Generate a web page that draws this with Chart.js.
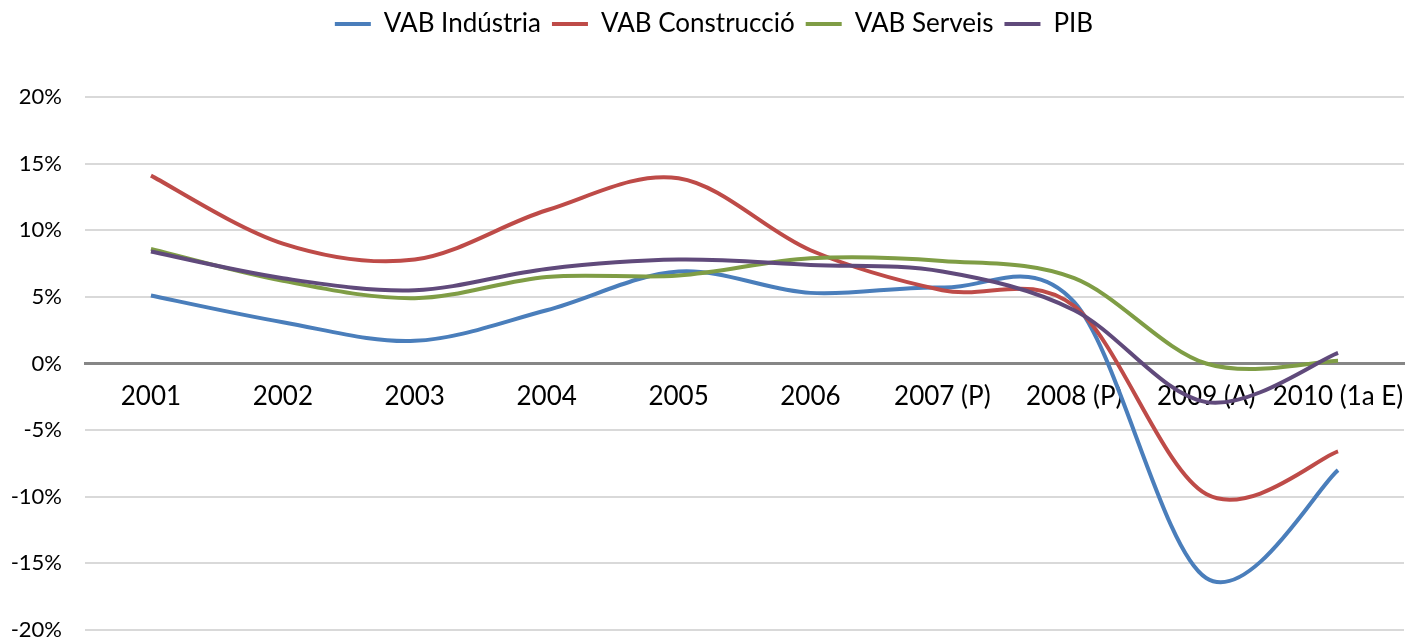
<!DOCTYPE html>
<html>
<head>
<meta charset="utf-8">
<script src="https://cdn.jsdelivr.net/npm/chart.js@4/dist/chart.umd.min.js"></script>
<style>
  html, body { margin: 0; padding: 0; background: #ffffff; }
  #wrap { width: 1411px; height: 642px; }
</style>
</head>
<body>
<div id="wrap"><canvas id="chart" width="1411" height="642"></canvas></div>
<script>
// Annual growth rates (%)
const years = ['2001', '2002', '2003', '2004', '2005', '2006', '2007 (P)', '2008 (P)', '2009 (A)', '2010 (1a E)'];
const vabIndustria    = [5.1, 3.1, 1.7, 4.0, 6.9, 5.3, 5.7, 4.6, -16.1, -8.0];
const vabConstruccio  = [14.1, 9.0, 7.8, 11.5, 13.9, 8.5, 5.5, 4.3, -9.8, -6.6];
const vabServeis      = [8.6, 6.2, 4.9, 6.5, 6.6, 7.9, 7.7, 6.4, 0.0, 0.2];
const pib             = [8.4, 6.4, 5.5, 7.1, 7.8, 7.4, 6.9, 4.0, -2.9, 0.8];
const yTicks = [-20, -15, -10, -5, 0, 5, 10, 15, 20];

const FONT = 'Lato, "Open Sans", sans-serif';

function series(label, data, color, order) {
  return {
    label, data, order,
    borderColor: color,
    backgroundColor: color,
    borderWidth: 4,
    pointRadius: 0,
    pointHoverRadius: 0,
    tension: 0.4,
    fill: false
  };
}

// extra room between legend and plot; legend centred over the plot area
const legendGap = {
  id: 'legendGap',
  beforeInit(chart) {
    const legend = chart.legend;
    const fit = legend.fit;
    legend.fit = function () {
      fit.call(this);
      this.height += 50;
    };
    const draw = legend.draw;
    legend.draw = function () {
      const ctx = this.ctx;
      ctx.save();
      ctx.translate(12, 0);
      draw.apply(this, arguments);
      ctx.restore();
    };
  }
};

// Catmull-Rom style smoothing: control points at 1/6 of the neighbour chord
const smoothCurves = {
  id: 'smoothCurves',
  beforeDatasetDraw(chart, args) {
    const line = args.meta.dataset;
    const pts = args.meta.data;
    const n = pts.length;
    for (let i = 0; i < n; i++) {
      const p = pts[i];
      const prev = pts[Math.max(i - 1, 0)];
      const next = pts[Math.min(i + 1, n - 1)];
      const dx = (next.x - prev.x) / 6;
      const dy = (next.y - prev.y) / 6;
      p.cp1x = p.x - dx; p.cp1y = p.y - dy;
      p.cp2x = p.x + dx; p.cp2y = p.y + dy;
    }
    line._pointsUpdated = true;
    line._path = undefined;
  }
};

// keep axis label overhang from shrinking the plot area
function noPadding(scale) {
  scale.paddingLeft = 0;
  scale.paddingRight = 0;
  scale.paddingTop = 0;
  scale.paddingBottom = 0;
}

new Chart(document.getElementById('chart'), {
  type: 'line',
  data: {
    labels: years,
    datasets: [
      series('VAB Indústria', vabIndustria, '#4a7ebb', 3),
      series('VAB Construcció', vabConstruccio, '#be4b48', 2),
      series('VAB Serveis', vabServeis, '#7f9d45', 1),
      series('PIB', pib, '#604a7b', 0)
    ]
  },
  plugins: [legendGap, smoothCurves],
  options: {
    responsive: false,
    animation: false,
    layout: { padding: { left: 0, right: 7, top: 0, bottom: 12 } },
    plugins: {
      tooltip: { enabled: false },
      legend: {
        position: 'top',
        align: 'center',
        labels: {
          usePointStyle: true,
          pointStyle: 'line',
          pointStyleWidth: 36,
          color: '#000000',
          padding: 11,
          font: { family: FONT, size: 26 },
          sort: (a, b) => a.datasetIndex - b.datasetIndex
        }
      }
    },
    scales: {
      x: {
        position: { y: 0 },
        offset: true,
        afterFit(scale) { noPadding(scale); },
        grid: { display: false, drawTicks: false },
        border: { display: true, color: '#868686', width: 3 },
        ticks: {
          color: '#000000',
          padding: 18,
          maxRotation: 0,
          autoSkip: false,
          font: { family: FONT, size: 26 }
        }
      },
      y: {
        min: -20,
        max: 20,
        afterBuildTicks(scale) { scale.ticks = yTicks.map(v => ({ value: v })); },
        afterFit(scale) { scale.width = 85; noPadding(scale); },
        grid: {
          drawTicks: false,
          color: ctx => (ctx.tick && ctx.tick.value === 0) ? 'rgba(0,0,0,0)' : '#d9d9d9',
          lineWidth: 2
        },
        border: { display: false },
        ticks: {
          color: '#000000',
          padding: 23,
          font: { family: FONT, size: 22 },
          callback: v => v + '%'
        }
      }
    }
  }
});
</script>
</body>
</html>
